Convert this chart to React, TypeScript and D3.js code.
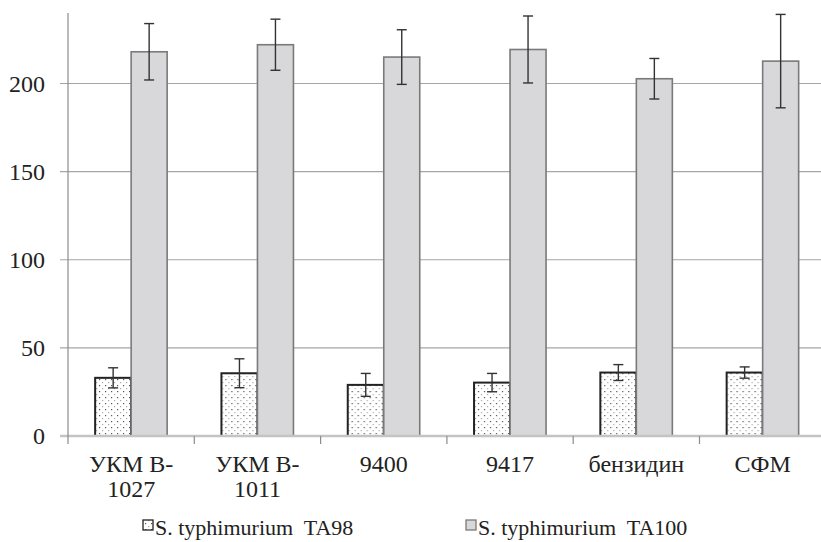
import * as d3 from 'd3';

const categories = ['УКМ В-1027', 'УКМ В-1011', '9400', '9417', 'бензидин', 'СФМ'];
const labelLines = [['УКМ В-', '1027'], ['УКМ В-', '1011'], ['9400'], ['9417'], ['бензидин'], ['СФМ']];
const seriesNames = ['S. typhimurium  TA98', 'S. typhimurium  TA100'];
const ta98 = [33, 35.6, 29, 30.3, 36, 36];
const ta98Err = [5.7, 8.2, 6.5, 5.2, 4.5, 3.2];
const ta100 = [218, 222, 215, 219.3, 202.7, 212.7];
const ta100Err = [16, 14.5, 15.5, 19, 11.5, 26.5];
const yTicks = [0, 50, 100, 150, 200];

const W = 821;
const H = 542;
const left = 68;
const top = 13;
const bottom = 436;
const serif = 'Liberation Serif';
const txt = { fontFamily: "'Liberation Serif'", whiteSpace: 'pre' as const };

export default function App() {
  const x = d3
    .scaleBand<string>()
    .domain(categories)
    .range([left, left + 126.3 * categories.length]);
  const bw = x.bandwidth();
  const inner = d3
    .scaleBand<string>()
    .domain(seriesNames)
    .range([bw / 2 - 36, bw / 2 + 36]);
  const y = d3.scaleLinear().domain([0, 240]).range([bottom, top]);

  const series = [
    { name: seriesNames[0], values: ta98, errs: ta98Err },
    { name: seriesNames[1], values: ta100, errs: ta100Err },
  ];

  return (
    <svg
      width={W}
      height={H}
      fontFamily={serif}
      style={{ position: 'absolute', left: 0, top: 0, background: '#fff' }}
    >
      <defs>
        <pattern id="dots" width={6} height={6} patternUnits="userSpaceOnUse">
          <rect width={6} height={6} fill="#fff" />
          <rect x={1} y={1} width={1.2} height={1.2} fill="#555" />
          <rect x={4} y={4} width={1.2} height={1.2} fill="#aaa" />
        </pattern>
      </defs>

      {/* grid */}
      {yTicks
        .filter((t) => t > 0)
        .map((t) => (
          <line key={t} x1={60} x2={W} y1={y(t)} y2={y(t)} stroke="#a6a6a6" strokeWidth={1.2} />
        ))}
      {yTicks.map((t) => (
        <text
          key={t}
          x={45}
          y={y(t) + 8}
          textAnchor="end"
          fontSize={24}
          fontFamily={serif}
          fill="#222"
          style={txt}
        >
          {t}
        </text>
      ))}

      {/* bars */}
      {categories.map((c, i) => (
        <g key={c} transform={`translate(${x(c)},0)`}>
          {series.map((s, si) => (
            <rect
              key={s.name}
              x={inner(s.name)}
              width={inner.bandwidth()}
              y={y(s.values[i])}
              height={bottom - y(s.values[i])}
              fill={si === 0 ? 'url(#dots)' : '#d8d8da'}
              stroke={si === 0 ? '#222' : '#7a7a7a'}
              strokeWidth={si === 0 ? 2 : 1.6}
            />
          ))}
          {series.map((s) => {
            const cx = (inner(s.name) ?? 0) + inner.bandwidth() / 2;
            const hi = y(s.values[i] + s.errs[i]);
            const lo = y(s.values[i] - s.errs[i]);
            return (
              <g key={s.name} stroke="#333" strokeWidth={1.4}>
                <line x1={cx} x2={cx} y1={hi} y2={lo} />
                <line x1={cx - 5} x2={cx + 5} y1={hi} y2={hi} />
                <line x1={cx - 5} x2={cx + 5} y1={lo} y2={lo} />
              </g>
            );
          })}
        </g>
      ))}

      {/* axes */}
      <line x1={60} x2={W} y1={bottom} y2={bottom} stroke="#c4c4c4" strokeWidth={2.5} />
      <line x1={left} x2={left} y1={top} y2={bottom + 8} stroke="#8c8c8c" strokeWidth={1.2} />
      {categories.slice(1).map((c) => (
        <line
          key={c}
          x1={x(c)}
          x2={x(c)}
          y1={bottom}
          y2={bottom + 8}
          stroke="#8c8c8c"
          strokeWidth={1.2}
        />
      ))}
      {categories.map((c, i) =>
        labelLines[i].map((l, li) => (
          <text
            key={c + li}
            x={(x(c) ?? 0) + bw / 2}
            y={472 + li * 25}
            textAnchor="middle"
            fontSize={24}
            fontFamily={serif}
            fill="#222"
            style={txt}
          >
            {l}
          </text>
        ))
      )}

      {/* legend */}
      {[143, 466].map((lx, i) => (
        <g key={i}>
          <rect
            x={lx}
            y={520}
            width={10}
            height={10}
            fill={i === 0 ? 'url(#dots)' : '#d8d8da'}
            stroke={i === 0 ? '#222' : '#7a7a7a'}
            strokeWidth={1.3}
          />
          <text x={lx + 12} y={535} fontSize={22} fontFamily={serif} fill="#222" style={txt}>
            {seriesNames[i]}
          </text>
        </g>
      ))}
    </svg>
  );
}
